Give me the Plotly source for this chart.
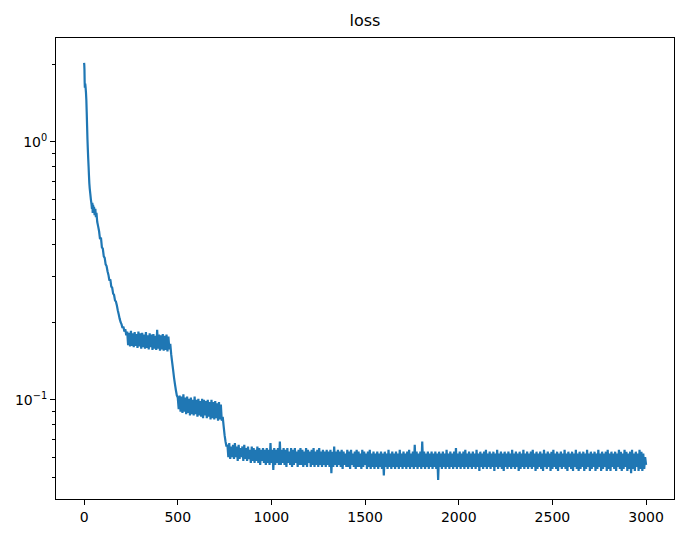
import plotly.graph_objects as go

# ---- data ----
early_steps = [0, 1, 2, 3, 4, 5, 6, 8, 10, 12, 14, 16, 18, 20, 22, 24, 26, 28, 30, 33, 36,
               40, 42, 44, 46, 48, 50, 53, 56, 60, 63, 66, 70] + list(range(75, 226, 5))
early_loss = [2.02, 1.98, 1.90, 1.70, 1.62, 1.66, 1.68, 1.62, 1.55, 1.45, 1.30, 1.15, 1.02,
              0.93, 0.86, 0.80, 0.74, 0.69, 0.66, 0.63, 0.60, 0.57, 0.55, 0.58, 0.53, 0.57,
              0.54, 0.56, 0.52, 0.55, 0.51, 0.53, 0.49,
              0.47, 0.45, 0.42, 0.425, 0.39, 0.385, 0.36, 0.355, 0.335, 0.33, 0.315, 0.305,
              0.29, 0.293, 0.275, 0.272, 0.258, 0.255, 0.243, 0.24, 0.232, 0.222, 0.214,
              0.206, 0.200, 0.196, 0.19, 0.192, 0.184, 0.188, 0.178]

late_steps = list(range(230, 3001, 5))
plateau1_loss = [
    0.184, 0.163, 0.182, 0.161, 0.185, 0.162, 0.181, 0.160, 0.183, 0.162,
    0.180, 0.159, 0.184, 0.161, 0.181, 0.158, 0.182, 0.160, 0.179, 0.158,
    0.183, 0.159, 0.178, 0.157, 0.181, 0.160, 0.179, 0.156, 0.180, 0.158,
    0.177, 0.156, 0.187, 0.158, 0.179, 0.155, 0.178, 0.157, 0.180, 0.155,
    0.177, 0.156, 0.179, 0.154, 0.176, 0.157, 0.165]
plateau2_loss = [
    0.150, 0.140, 0.131, 0.122, 0.115, 0.109, 0.104, 0.102, 0.092, 0.104,
    0.090, 0.103, 0.089, 0.105, 0.090, 0.102, 0.088, 0.103, 0.089, 0.101,
    0.087, 0.102, 0.088, 0.100, 0.087, 0.103, 0.088, 0.100, 0.086, 0.101,
    0.087, 0.099, 0.086, 0.101, 0.085, 0.100, 0.087, 0.099, 0.085, 0.100,
    0.086, 0.098, 0.084, 0.100, 0.085, 0.098, 0.084, 0.099, 0.085, 0.097,
    0.083, 0.098, 0.084, 0.096, 0.083, 0.086, 0.079, 0.073, 0.069, 0.066]
final_loss = [
    0.067, 0.060, 0.068, 0.059, 0.066, 0.060, 0.067, 0.059, 0.068, 0.060, 0.066, 0.058, 0.067, 0.059, 0.065, 0.060, 0.066, 0.058, 0.067, 0.059,
    0.065, 0.058, 0.066, 0.059, 0.064, 0.057, 0.066, 0.058, 0.065, 0.057, 0.064, 0.058, 0.066, 0.057, 0.065, 0.056, 0.064, 0.058, 0.065, 0.057,
    0.064, 0.056, 0.065, 0.057, 0.064, 0.056, 0.068, 0.057, 0.064, 0.0535, 0.065, 0.056, 0.064, 0.057, 0.065, 0.056, 0.069, 0.056, 0.064, 0.057,
    0.065, 0.056, 0.064, 0.055, 0.065, 0.057, 0.063, 0.056, 0.065, 0.055, 0.064, 0.056, 0.065, 0.057, 0.063, 0.055, 0.064, 0.056, 0.065, 0.056,
    0.064, 0.055, 0.063, 0.056, 0.065, 0.055, 0.064, 0.057, 0.063, 0.055, 0.064, 0.056, 0.065, 0.055, 0.063, 0.056, 0.064, 0.055, 0.065, 0.056,
    0.063, 0.055, 0.064, 0.056, 0.063, 0.055, 0.064, 0.056, 0.063, 0.055, 0.064, 0.052, 0.063, 0.055, 0.066, 0.056, 0.063, 0.055, 0.064, 0.056,
    0.063, 0.055, 0.064, 0.054, 0.063, 0.056, 0.062, 0.055, 0.064, 0.055, 0.063, 0.054, 0.064, 0.056, 0.062, 0.055, 0.063, 0.054, 0.064, 0.055,
    0.063, 0.055, 0.062, 0.054, 0.064, 0.055, 0.063, 0.056, 0.062, 0.054, 0.063, 0.055, 0.064, 0.054, 0.062, 0.055, 0.063, 0.054, 0.062, 0.055,
    0.063, 0.054, 0.062, 0.055, 0.063, 0.054, 0.062, 0.051, 0.063, 0.055, 0.062, 0.054, 0.064, 0.055, 0.062, 0.054, 0.063, 0.055, 0.062, 0.054,
    0.063, 0.055, 0.062, 0.054, 0.064, 0.055, 0.062, 0.054, 0.063, 0.055, 0.062, 0.054, 0.063, 0.055, 0.064, 0.054, 0.062, 0.055, 0.063, 0.054,
    0.067, 0.055, 0.063, 0.054, 0.062, 0.055, 0.063, 0.054, 0.069, 0.055, 0.063, 0.054, 0.062, 0.055, 0.063, 0.054, 0.062, 0.055, 0.063, 0.054,
    0.062, 0.055, 0.063, 0.054, 0.062, 0.049, 0.063, 0.055, 0.062, 0.054, 0.063, 0.055, 0.062, 0.054, 0.064, 0.055, 0.062, 0.054, 0.063, 0.055,
    0.062, 0.054, 0.063, 0.055, 0.065, 0.054, 0.062, 0.055, 0.063, 0.054, 0.062, 0.055, 0.063, 0.054, 0.064, 0.055, 0.062, 0.054, 0.063, 0.055,
    0.062, 0.054, 0.063, 0.055, 0.062, 0.054, 0.064, 0.055, 0.062, 0.053, 0.063, 0.055, 0.062, 0.054, 0.063, 0.055, 0.064, 0.054, 0.062, 0.055,
    0.063, 0.054, 0.062, 0.055, 0.063, 0.053, 0.062, 0.055, 0.064, 0.054, 0.062, 0.055, 0.063, 0.054, 0.062, 0.053, 0.063, 0.055, 0.062, 0.054,
    0.063, 0.055, 0.062, 0.054, 0.064, 0.055, 0.062, 0.054, 0.063, 0.055, 0.062, 0.053, 0.063, 0.054, 0.062, 0.055, 0.064, 0.054, 0.062, 0.055,
    0.063, 0.054, 0.062, 0.055, 0.063, 0.054, 0.064, 0.055, 0.062, 0.053, 0.063, 0.054, 0.062, 0.055, 0.063, 0.054, 0.062, 0.053, 0.064, 0.055,
    0.062, 0.054, 0.063, 0.055, 0.062, 0.053, 0.063, 0.054, 0.064, 0.055, 0.062, 0.054, 0.063, 0.053, 0.062, 0.055, 0.063, 0.054, 0.062, 0.055,
    0.064, 0.054, 0.062, 0.053, 0.063, 0.055, 0.062, 0.054, 0.063, 0.053, 0.062, 0.055, 0.064, 0.054, 0.062, 0.053, 0.063, 0.054, 0.062, 0.055,
    0.063, 0.053, 0.062, 0.054, 0.064, 0.055, 0.062, 0.053, 0.063, 0.054, 0.062, 0.055, 0.063, 0.053, 0.062, 0.054, 0.064, 0.055, 0.062, 0.053,
    0.063, 0.054, 0.062, 0.055, 0.063, 0.053, 0.064, 0.054, 0.062, 0.053, 0.063, 0.055, 0.062, 0.054, 0.063, 0.053, 0.062, 0.055, 0.064, 0.054,
    0.063, 0.053, 0.062, 0.054, 0.064, 0.055, 0.063, 0.053, 0.062, 0.054, 0.063, 0.052, 0.064, 0.054, 0.062, 0.053, 0.063, 0.055, 0.062, 0.053,
    0.064, 0.054, 0.063, 0.053, 0.062, 0.054, 0.060, 0.056]

x_ticks = [0, 500, 1000, 1500, 2000, 2500, 3000]
y_ticks = [0.1, 1]
y_tick_text = ["10<sup>\u22121</sup>", "10<sup>0</sup>"]
y_minor = [0.05, 0.06, 0.07, 0.08, 0.09, 0.2, 0.3, 0.4, 0.5, 0.6, 0.7, 0.8, 0.9, 2]

steps = early_steps + late_steps
loss = early_loss + plateau1_loss + plateau2_loss + final_loss
assert len(early_steps) == len(early_loss)
assert len(steps) == len(loss), (len(steps), len(loss))

FONT = "DejaVu Sans"
W, H = 678, 527  # page adds an 8px body margin

fig = go.Figure()
fig.add_trace(go.Scatter(x=steps, y=loss, mode="lines",
                         line=dict(color="#1f77b4", width=2.2, simplify=False),
                         showlegend=False))

axis_common = dict(showline=True, mirror=True, linecolor="black", linewidth=1,
                   showgrid=False, zeroline=False, ticks="outside", tickcolor="black",
                   tickwidth=1, ticklen=5, automargin=False,
                   tickfont=dict(family=FONT, size=14, color="black"))

fig.update_layout(
    width=W, height=H,
    margin=dict(l=48, r=12, t=30, b=36),
    paper_bgcolor="white", plot_bgcolor="white",
    title=dict(text="loss", x=0.5, xref="paper", xanchor="center",
               y=1 - 12 / H, yref="container", yanchor="middle",
               font=dict(family=FONT, size=16, color="black")),
    xaxis=dict(range=[-150, 3149], tickmode="array", tickvals=x_ticks, **axis_common),
    yaxis=dict(type="log", range=[-1.384, 0.402], tickmode="array",
               tickvals=y_ticks, ticktext=y_tick_text,
               minor=dict(tickmode="array", tickvals=y_minor, ticks="outside",
                          ticklen=3, tickcolor="black", tickwidth=1),
               **axis_common),
)

fig.write_html("out.html")
